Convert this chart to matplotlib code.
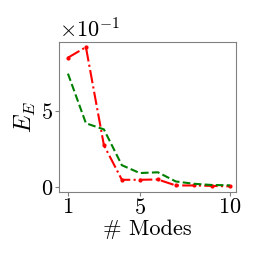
import matplotlib
matplotlib.use("Agg")
import matplotlib.pyplot as plt
import numpy as np
from matplotlib.ticker import ScalarFormatter

plt.rcParams['mathtext.fontset'] = 'cm'
plt.rcParams['font.family'] = 'serif'
plt.rcParams['font.serif'] = ['cmr10']
plt.rcParams['axes.formatter.use_mathtext'] = True
plt.rcParams['font.size'] = 16

modes = np.arange(1, 11)
err_red = [0.847, 0.916, 0.276, 0.050, 0.050, 0.052, 0.013, 0.013, 0.010, 0.007]
err_green = [0.743, 0.419, 0.379, 0.145, 0.094, 0.099, 0.039, 0.024, 0.016, 0.014]

fig = plt.figure(figsize=(2.62, 2.62), dpi=100)
ax = fig.add_axes([0.225, 0.267, 0.676, 0.573])

ax.plot(modes, err_red, color='red', linestyle='-.', marker='o', markersize=2, linewidth=1.5)
ax.plot(modes, err_green, color='green', linestyle='--', linewidth=1.5)

ax.set_xticks([1, 5, 10])
ax.set_yticks([0, 0.5])
fmt = ScalarFormatter(useMathText=True)
fmt.set_powerlimits((0, 0))
ax.yaxis.set_major_formatter(fmt)
ax.yaxis.get_offset_text().set_fontsize(16)

ax.set_xlim(0.5, 10.35)
ax.set_ylim(-0.03, 0.95)

ax.set_xlabel(r'# Modes', labelpad=1)
ax.set_ylabel(r'$E_E$', labelpad=2, fontsize=17)

for s in ax.spines.values():
    s.set_color('grey')
ax.tick_params(colors='black', length=3, color='grey', pad=1)

fig.savefig('out.png', dpi=100)
